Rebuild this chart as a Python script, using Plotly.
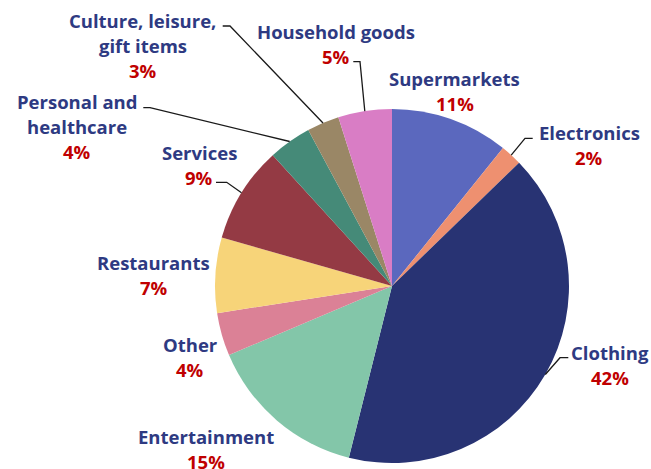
import math
import plotly.graph_objects as go

# Share of spending by category (percent)
categories = ["Supermarkets", "Electronics", "Clothing", "Entertainment", "Other",
              "Restaurants", "Services", "Personal and healthcare",
              "Culture, leisure, gift items", "Household goods"]
shares = [11, 2, 42, 15, 4, 7, 9, 4, 3, 5]

# Label text as shown, one entry per line
label_lines = [["Supermarkets"], ["Electronics"], ["Clothing"], ["Entertainment"], ["Other"],
               ["Restaurants"], ["Services"], ["Personal and", "healthcare"],
               ["Culture, leisure,", "gift items"], ["Household goods"]]

colors = ["#5B68BE", "#EE9070", "#283373", "#83C6A9", "#DB8196",
          "#F7D479", "#943A44", "#458A78", "#9A8766", "#D97DC5"]

W, H = 651, 469
CX, CY, R = 392, 286, 177
NAME_COLOR = "#2E3A82"
PCT_COLOR = "#C00000"
FONT = "Open Sans"
FSIZE = 18.5
LINE_GAP = 25

# Centre of each label block (page pixels)
label_centers = [(454.5, 90.5), (589, 145.3), (610.3, 365), (206, 449), (190.2, 357.2),
                 (153.6, 275.3), (199, 165), (77, 126.1), (142.5, 45.5), (336, 44.2)]

# Leader lines: text-side start point and elbow, ending on the slice rim
leaders = {
    1: ((532.7, 138.3), (525, 138.3)),
    2: ((568.3, 357.7), (560, 357.7)),
    6: ((216, 182.3), (226.7, 182.3)),
    7: ((143.3, 107.7), (150, 107.7)),
    8: ((222.7, 26), (230, 26)),
    9: ((353.3, 61.7), (360, 61.7)),
}

fig = go.Figure()
fig.add_trace(go.Pie(
    labels=categories, values=shares, sort=False, direction="clockwise", rotation=0,
    marker=dict(colors=colors, line=dict(width=0)), textinfo="none",
    hoverinfo="label+value", showlegend=False,
    domain=dict(x=[(CX - R) / W, (CX + R) / W], y=[1 - (CY + R) / H, 1 - (CY - R) / H]),
))

total = sum(shares)
annotations = []
shapes = []
cum = 0
for i, v in enumerate(shares):
    mid = (cum + v / 2) / total * 2 * math.pi
    cum += v
    lines = label_lines[i] + [f"{v}%"]
    x0, yc = label_centers[i]
    n = len(lines)
    for k, t in enumerate(lines):
        y = yc + (k - (n - 1) / 2) * LINE_GAP
        col = PCT_COLOR if k == n - 1 else NAME_COLOR
        annotations.append(dict(x=x0, y=y, xref="x", yref="y", text=f"<b>{t}</b>",
                                showarrow=False, xanchor="center", yanchor="middle",
                                font=dict(family=FONT, size=FSIZE, color=col)))
    if i in leaders:
        (sx, sy), (ex, ey) = leaders[i]
        rx = CX + R * math.sin(mid)
        ry = CY - R * math.cos(mid)
        shapes.append(dict(type="path", xref="x", yref="y",
                           path=f"M{sx},{sy} L{ex},{ey} L{rx:.1f},{ry:.1f}",
                           line=dict(color="#1a1a1a", width=1.3)))

fig.update_layout(
    width=W, height=H, margin=dict(l=0, r=0, t=0, b=0),
    paper_bgcolor="white", plot_bgcolor="rgba(0,0,0,0)",
    xaxis=dict(range=[0, W], visible=False, fixedrange=True),
    yaxis=dict(range=[H, 0], visible=False, fixedrange=True),
    annotations=annotations, shapes=shapes,
)
fig.write_html("out.html")
